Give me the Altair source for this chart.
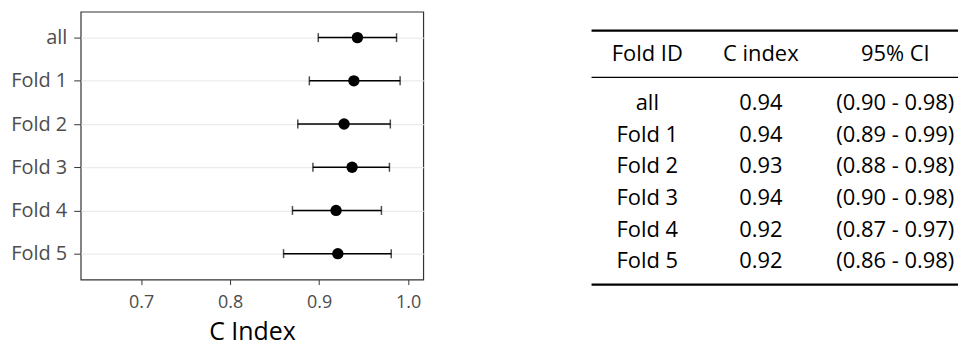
import altair as alt
import pandas as pd

# ---- data ----
folds = ["all", "Fold 1", "Fold 2", "Fold 3", "Fold 4", "Fold 5"]
c_index = [0.943, 0.939, 0.928, 0.937, 0.919, 0.921]
ci_low = [0.899, 0.889, 0.876, 0.893, 0.870, 0.860]
ci_high = [0.987, 0.991, 0.980, 0.979, 0.970, 0.981]

table_header = ["Fold ID", "C index", "95% CI"]
table_cindex = ["0.94", "0.94", "0.93", "0.94", "0.92", "0.92"]
table_ci = ["(0.90 - 0.98)", "(0.89 - 0.99)", "(0.88 - 0.98)",
            "(0.90 - 0.98)", "(0.87 - 0.97)", "(0.86 - 0.98)"]
x_ticks = [0.7, 0.8, 0.9, 1.0]

FONT = "Open Sans"

# ---- forest plot ----
df = pd.DataFrame({"fold": folds, "c": c_index, "lo": ci_low, "hi": ci_high})

xscale = alt.Scale(domain=[0.632, 1.017], nice=False, zero=False)
yscale = alt.Scale(type="point", domain=folds, padding=0.6)

x_axis = alt.Axis(values=x_ticks, format=".1f", grid=False, domain=False,
                  tickColor="#333333", tickSize=5, tickWidth=1,
                  labelColor="#4d4d4d", labelFontSize=18, labelFont=FONT,
                  labelPadding=9, title="C Index", titleFont=FONT,
                  titleFontSize=25, titleFontWeight="normal",
                  titleColor="#000000", titlePadding=8)
y_axis = alt.Axis(title=None, grid=True, gridColor="#ebebeb", gridWidth=1.2,
                  domain=False, tickColor="#333333", tickSize=7, tickWidth=1,
                  labelColor="#4d4d4d", labelFontSize=20, labelFont=FONT,
                  labelPadding=7)

base = alt.Chart(df)
bars = base.mark_rule(color="black", strokeWidth=1.5).encode(
    x=alt.X("lo:Q", scale=xscale, axis=x_axis),
    x2="hi:Q",
    y=alt.Y("fold:N", scale=yscale, axis=y_axis),
)
cap_lo = base.mark_tick(color="black", thickness=1.5, size=9).encode(
    x=alt.X("lo:Q", scale=xscale), y=alt.Y("fold:N", scale=yscale))
cap_hi = base.mark_tick(color="black", thickness=1.5, size=9).encode(
    x=alt.X("hi:Q", scale=xscale), y=alt.Y("fold:N", scale=yscale))
pts = base.mark_circle(color="black", size=130, opacity=1).encode(
    x=alt.X("c:Q", scale=xscale), y=alt.Y("fold:N", scale=yscale))

forest = alt.layer(bars, cap_lo, cap_hi, pts).properties(
    width=344, height=269,
    view=alt.ViewBackground(stroke="#333333", strokeWidth=1.2),
)

# ---- table ----
TW = 368
col_x = [56, 170, 305]
body = pd.DataFrame({"row": folds, "fid": folds, "cidx": table_cindex,
                     "ci": table_ci})
ty = alt.Scale(type="point", domain=folds, range=[99, 257.5], padding=0)
one = pd.DataFrame({"k": [0]})

def body_col(field, cx):
    return alt.Chart(body).mark_text(font=FONT, fontSize=22, color="black",
                                     baseline="alphabetic", align="center").encode(
        x=alt.value(cx),
        y=alt.Y("row:N", scale=ty, axis=None),
        text=f"{field}:N",
    )

def head_col(label, cx):
    return alt.Chart(one).mark_text(font=FONT, fontSize=22, color="black",
                                    baseline="alphabetic", align="center",
                                    text=label).encode(
        x=alt.value(cx), y=alt.value(50))

def hrule(ypos, w):
    return alt.Chart(one).mark_rule(color="black", strokeWidth=w).encode(
        x=alt.value(0), x2=alt.value(TW), y=alt.value(ypos))

layers = [hrule(19, 2.2), hrule(66, 1.4), hrule(274, 2.2)]
for label, field, cx in zip(table_header, ["fid", "cidx", "ci"], col_x):
    layers.append(head_col(label, cx))
    layers.append(body_col(field, cx))

table = alt.layer(*layers).properties(
    width=TW, height=280, view=alt.ViewBackground(stroke=None))

chart = alt.hconcat(forest, table, spacing=166).properties(
    padding={"left": 2, "top": 2, "right": 0, "bottom": 0},
).configure_view(stroke=None)

chart.save("out.html", embed_options={"renderer": "svg", "actions": False})
